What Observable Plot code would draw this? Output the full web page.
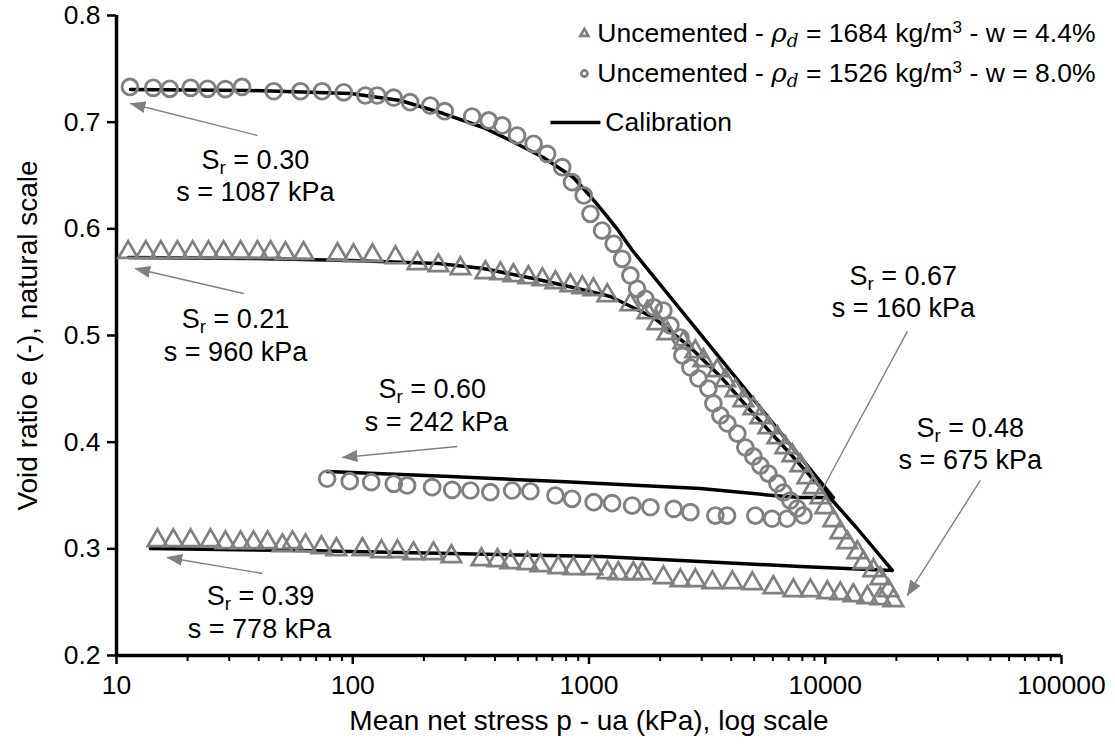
<!DOCTYPE html>
<html><head><meta charset="utf-8">
<script src="https://cdn.jsdelivr.net/npm/d3@7"></script>
<script src="https://cdn.jsdelivr.net/npm/@observablehq/plot@0.6"></script>
<style>body{margin:0;background:#fff}#chart{width:1115px;height:744px}</style>
</head><body><div id="chart"></div>
<script>
// ---------- data ----------
// Uncemented, rho_d = 1684 kg/m3, w = 4.4% (triangles): loading then unloading
const triLoadP = [11.2,13.3,15.4,18.1,21.0,24.5,28.4,33.5,39.5,44.9,51.9,61.9,86.2,100.7,121.2,151.6,187.8,230.5,285.6,364.4,421.9,478.6,554,635.2,720.8,834.2,937.8,1044,1196,1497,1766,1948,2147,2509,2820,3050,3494,3778,4165,4503,4964,5314,5743,6271,6780,7259,7845,8400,8906,9535,10010,10820,11580,12400,13670,14500,15980,17110,18500,19420];
const triLoadE = [0.578,0.578,0.578,0.578,0.578,0.578,0.578,0.578,0.578,0.578,0.577,0.577,0.576,0.575,0.575,0.573,0.5675,0.5656,0.5628,0.5591,0.5581,0.5563,0.5544,0.5525,0.5497,0.5469,0.5450,0.5431,0.5375,0.5291,0.5216,0.5113,0.5019,0.4934,0.4850,0.4766,0.4672,0.4578,0.4484,0.4391,0.4316,0.4231,0.4138,0.4044,0.3950,0.3875,0.3781,0.3669,0.3575,0.3481,0.3388,0.3266,0.3153,0.3059,0.2966,0.2872,0.2797,0.2722,0.2609,0.2516];
const triUnloadP = [17110,15080,13150,11580,10200,8649,7328,6032,4914,4045,3329,2820,2437,2065,1683,1541,1331,1196,1034,859,742.1,622.8,548.6,465,409.8,350.5,261.6,219.6,180.7,154.6,132.3,109.9,85.3,73.7,63.1,55.6,50.4,43.6,38.0,33.5,28.9,25.0,20.6,17.4,14.9];
const triUnloadE = [0.2534,0.2544,0.2563,0.2581,0.2591,0.2609,0.2609,0.2638,0.2675,0.2684,0.2684,0.2703,0.2703,0.2731,0.2769,0.2769,0.2769,0.2778,0.2816,0.2816,0.2825,0.2844,0.2863,0.2872,0.2891,0.2900,0.2928,0.2956,0.2956,0.2975,0.2975,0.2994,0.2994,0.3013,0.3031,0.3059,0.3031,0.3059,0.3059,0.3059,0.3059,0.3078,0.3078,0.3078,0.3078];
// Uncemented, rho_d = 1526 kg/m3, w = 8.0% (circles)
const circLoadP = [11.4,14.3,16.8,20.6,24.3,28.9,34.0,46.3,60.1,74.2,91.6,113,127,149,175,213,245,320,376,429,496,583,665,770,848,950,1014,1136,1272,1381,1497,1598,1733,1878,2065,2211,2437,2485,2686,2904,3201,3362,3599,3852,4246,4591,4963,5314,5743,6271,6648,7118,7620,8077];
const circLoadE = [0.733,0.7322,0.7313,0.7322,0.7313,0.731,0.733,0.729,0.729,0.729,0.728,0.725,0.725,0.723,0.7187,0.7156,0.7103,0.7053,0.7016,0.6969,0.6875,0.6797,0.6703,0.6578,0.6437,0.6313,0.6141,0.5984,0.5860,0.5719,0.5563,0.5438,0.5344,0.5265,0.5234,0.5094,0.4981,0.4813,0.4700,0.4597,0.4503,0.4363,0.4250,0.4175,0.4081,0.3950,0.3866,0.3781,0.3706,0.3613,0.3528,0.3453,0.3378,0.3313];
const circUnloadP = [6890,5954,5059,3840,3426,2686,2283,1819,1522,1252,1047,848.1,720.8,564.9,472.8,382.4,314.8,263.5,216.8,169.9,149.1,119.7,97.1,77.9];
const circUnloadE = [0.3282,0.3282,0.3312,0.3312,0.3312,0.3344,0.3375,0.3390,0.3406,0.3428,0.3437,0.3469,0.3500,0.3540,0.3547,0.3531,0.3547,0.3553,0.3578,0.3594,0.3610,0.3625,0.3634,0.3657];
// Calibration curves (loading then unloading)
const calCircP = [11.46,36.9,97.8,159,242,357,465,641,859,1000,1160,1330,1527,10820,7845,6032,2961,1650,757,259,78.1];
const calCircE = [0.7306,0.7297,0.7269,0.7203,0.7081,0.6950,0.6828,0.6669,0.6481,0.6320,0.6150,0.5985,0.5797,0.3481,0.3481,0.35,0.3566,0.3594,0.3631,0.3678,0.3725];
const calTriP = [11.24,36.9,97.8,230.5,357,582,859,1232,1873,2686,3599,4822,6780,10010,13540,19230,7845,2961,1118,259,60.1,13.9];
const calTriE = [0.5731,0.5722,0.5703,0.5675,0.5628,0.5534,0.5450,0.5366,0.5169,0.4888,0.4616,0.4297,0.3941,0.3528,0.32,0.2797,0.2834,0.2881,0.2928,0.2956,0.2984,0.3003];

// Axis ticks
const xMajorTicks = [10,100,1000,10000,100000];
const xMinorTicks = [10,100,1000,10000].flatMap(d => [2,3,4,5,6,7,8,9].map(k => d*k));
const yTicks = [0.2,0.3,0.4,0.5,0.6,0.7,0.8];
const xTitle = "Mean net stress p - ua (kPa), log scale";
const yTitle = "Void ratio e (-), natural scale";

// Annotations
const annLabels = ["S{_r} = 0.30","s = 1087 kPa","S{_r} = 0.21","s = 960 kPa","S{_r} = 0.60","s = 242 kPa","S{_r} = 0.39","s = 778 kPa","S{_r} = 0.67","s = 160 kPa","S{_r} = 0.48","s = 675 kPa"];
const annP = [38.7,38.7,31.9,31.9,217,226,40.7,40.3,21400,21400,41110,41110];
const annE = [0.6642,0.6345,0.5155,0.4846,0.4499,0.4190,0.2554,0.2248,0.5554,0.5258,0.4129,0.3833];
const arrowP1 = [39.5,34.5,277,41.5,22260,45330];
const arrowE1 = [0.6875,0.5394,0.396,0.2769,0.5038,0.3641];
const arrowP2 = [11.46,12.0,90.4,16.4,9720,22260];
const arrowE2 = [0.7175,0.5628,0.3856,0.2919,0.3556,0.2563];
const arrowHead = [1,1,1,1,0,1];

// Legend
const legendLabels = ["Uncemented - {*ρ}{_*d} = 1684 kg/m{^3} - w = 4.4%","Uncemented - {*ρ}{_*d} = 1526 kg/m{^3} - w = 8.0%","Calibration"];
const legendSymbols = ["triangle","circle"];
const legendSymP = [956,956];
const legendE = [0.7831,0.7456,0.6997];
const legendTextP = [1085,1085,1173];
const legendLineP = [687,1118];

// ---------- build ----------
const zip = (P,E) => P.map((p,i)=>({p, e:E[i]}));
const tri = zip(triLoadP,triLoadE).concat(zip(triUnloadP,triUnloadE));
const circ = zip(circLoadP,circLoadE).concat(zip(circUnloadP,circUnloadE));
const cal = zip(calCircP,calCircE).map(d=>({...d,s:"circ"})).concat(zip(calTriP,calTriE).map(d=>({...d,s:"tri"})));
const ann = annLabels.map((t,i)=>({t, p:annP[i], e:annE[i]}));
const arrows = arrowP1.map((p,i)=>({p1:p, e1:arrowE1[i], p2:arrowP2[i], e2:arrowE2[i]}));
const legSym = legendSymbols.map((s,i)=>({s, p:legendSymP[i], e:legendE[i]}));
const legTxt = legendLabels.map((t,i)=>({t, p:legendTextP[i], e:legendE[i]}));

const GRAY = "#808080";
const plot = Plot.plot({
  width:1115, height:744,
  marginLeft:116, marginRight:54, marginTop:15, marginBottom:89,
  style:{fontFamily:"'Liberation Sans', Arial, sans-serif", fontSize:"26.5px", color:"#000", background:"#fff"},
  x:{type:"log", domain:[10,100000]},
  y:{domain:[0.2,0.8]},
  marks:[
    Plot.axisX({ticks:xMinorTicks, tickSize:6, tickFormat:()=>"", strokeWidth:2, label:null}),
    Plot.axisX({ticks:xMajorTicks, tickSize:9, tickPadding:11, tickFormat:d=>String(d), strokeWidth:2.5, label:null}),
    Plot.axisY({ticks:yTicks, tickSize:9, tickPadding:7, tickFormat:d3.format(".1f"), strokeWidth:2.5, label:null}),
    Plot.ruleY([0.2], {stroke:"#000", strokeWidth:3.5}),
    Plot.ruleX([10], {stroke:"#000", strokeWidth:3.5}),
    Plot.text([xTitle], {text:d=>d, frameAnchor:"bottom", lineAnchor:"middle", textAnchor:"middle", dy:66, fontSize:28}),
    Plot.text([yTitle], {text:d=>d, frameAnchor:"left", textAnchor:"middle", lineAnchor:"middle", dx:-88, rotate:-90, fontSize:28}),
    Plot.line(cal, {x:"p", y:"e", z:"s", stroke:"#000", strokeWidth:3.5, strokeLinejoin:"round", curve:"linear"}),
    Plot.link(arrows, {x1:"p1", y1:"e1", x2:"p2", y2:"e2", stroke:GRAY, strokeWidth:1.4}),
    Plot.dot(tri, {x:"p", y:"e", symbol:"triangle", r:7.2, stroke:GRAY, strokeWidth:2.7, fill:"none"}),
    Plot.dot(circ, {x:"p", y:"e", symbol:"circle", r:7.9, stroke:GRAY, strokeWidth:2.9, fill:"none"}),
    Plot.text(ann, {x:"p", y:"e", text:"t", fontSize:27, fill:"#000"}),
    // legend
    Plot.dot(legSym, {x:"p", y:"e", symbol:"s", r:d=>d.s==="triangle"?6.3:6.8, stroke:GRAY, strokeWidth:2.7, fill:"none"}),
    Plot.link([0], {x1:()=>legendLineP[0], x2:()=>legendLineP[1], y1:()=>legendE[2], y2:()=>legendE[2], stroke:"#000", strokeWidth:3.5}),
    Plot.text(legTxt, {x:"p", y:"e", text:"t", textAnchor:"start", fontSize:26.5, fill:"#000"})
  ]
});
document.getElementById("chart").appendChild(plot);

// arrowheads (filled triangles) on annotation links
const NS = "http://www.w3.org/2000/svg";
const defs = document.createElementNS(NS,"defs");
defs.innerHTML = '<marker id="ahead" viewBox="0 0 16 12" refX="15" refY="6" markerWidth="16" markerHeight="12" markerUnits="userSpaceOnUse" orient="auto"><path d="M0,0L16,6L0,12Z" fill="'+GRAY+'"/></marker>';
plot.insertBefore(defs, plot.firstChild);
const linkGroups = plot.querySelectorAll('g[aria-label="link"]');
if (linkGroups.length) {
  linkGroups[0].querySelectorAll("path").forEach((p,i)=>{ if (arrowHead[i]) p.setAttribute("marker-end","url(#ahead)"); });
}

// rich text: {_x} subscript, {^x} superscript, {*x} italic serif
plot.querySelectorAll("text").forEach(t=>{
  const s = t.textContent;
  if (!s.includes("{")) return;
  while (t.firstChild) t.removeChild(t.firstChild);
  const re = /\{([_^]?)(\*?)([^}]*)\}|([^{]+)/g; let m; let shift = 0;
  while ((m = re.exec(s))) {
    const ts = document.createElementNS(NS,"tspan");
    let target = 0;
    if (m[4] !== undefined) { ts.textContent = m[4]; }
    else {
      ts.textContent = m[3];
      if (m[1]==="_") { target = 5; ts.setAttribute("font-size","0.7em"); }
      if (m[1]==="^") { target = -9; ts.setAttribute("font-size","0.65em"); }
      if (m[2]==="*") { ts.setAttribute("font-style","italic"); ts.setAttribute("font-family","'DejaVu Serif', serif"); }
    }
    if (target !== shift) { ts.setAttribute("dy", String(target - shift)); shift = target; }
    t.appendChild(ts);
  }
});
</script></body></html>
